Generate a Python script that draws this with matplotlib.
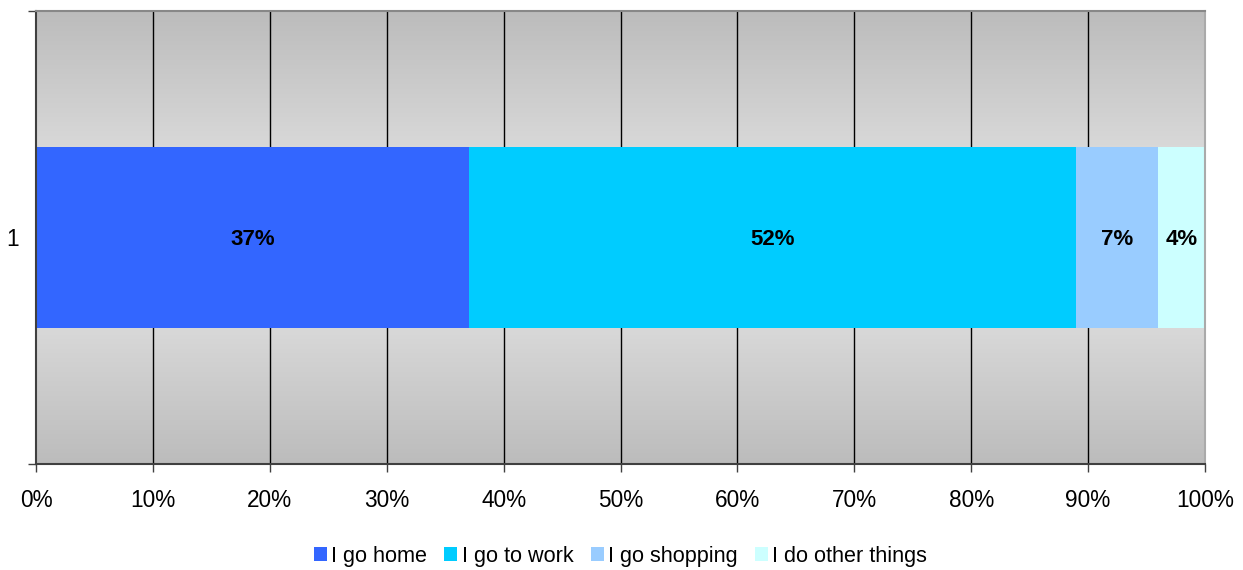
import numpy as np
import matplotlib.pyplot as plt
from matplotlib.colors import LinearSegmentedColormap

plt.rcParams['font.family'] = ['Liberation Sans', 'DejaVu Sans']

# data
categories = ['1']
series = ['I go home', 'I go to work', 'I go shopping', 'I do other things']
values = [37, 52, 7, 4]
colors = ['#3366FF', '#00CCFF', '#99CCFF', '#CCFFFF']
xticks = [0, 10, 20, 30, 40, 50, 60, 70, 80, 90, 100]
xticklabels = ['0%', '10%', '20%', '30%', '40%', '50%', '60%', '70%', '80%', '90%', '100%']

fig = plt.figure(figsize=(12.43, 5.70), dpi=100)
ax = fig.add_axes([36/1243, 1 - 464/570, 1169/1243, 453/570])

# gradient background, dark at the edges and light in the middle
grad = np.abs(np.linspace(-1, 1, 256)).reshape(-1, 1)
cmap = LinearSegmentedColormap.from_list('bg', ['#ebebeb', '#bcbcbc'])
ax.imshow(grad, cmap=cmap, aspect='auto', extent=[0, 100, 0.5, 1.5],
          origin='lower', zorder=0)

# gridlines
for x in xticks[1:-1]:
    ax.axvline(x, color='black', lw=1, zorder=1)

# stacked bars
left = 0
for name, v, c in zip(series, values, colors):
    ax.barh(1, v, left=left, height=0.4, color=c, label=name, zorder=2)
    ax.text(left + v / 2, 0.995, f'{v}%', ha='center', va='center',
            fontsize=16, fontweight='bold', zorder=3)
    left += v

ax.set_xlim(0, 100)
ax.set_ylim(0.5, 1.5)
ax.set_xticks(xticks)
ax.set_xticklabels(xticklabels, fontsize=16.3)
ax.tick_params(axis='x', length=6, width=1, color='#404040', pad=12)

ax.set_yticks([0.5, 1.5])
ax.set_yticklabels([])
ax.set_yticks([1], minor=True)
ax.set_yticklabels(categories, minor=True, fontsize=16.3)
ax.tick_params(axis='y', which='major', length=6, width=1, color='#404040')
ax.tick_params(axis='y', which='minor', length=0, pad=12)

ax.spines['left'].set_color('#404040')
ax.spines['left'].set_linewidth(1.5)
ax.spines['bottom'].set_color('#404040')
ax.spines['bottom'].set_linewidth(1.5)
ax.spines['top'].set_color('#888888')
ax.spines['top'].set_linewidth(1.5)
ax.spines['right'].set_color('#aaaaaa')
ax.spines['right'].set_linewidth(1.5)

ax.legend(loc='center', bbox_to_anchor=(0.5, -0.204), ncol=4, frameon=False,
          fontsize=15.6, handlelength=0.6, handleheight=0.6,
          handletextpad=0.2, columnspacing=0.8)

fig.savefig('out.png', dpi=100)
